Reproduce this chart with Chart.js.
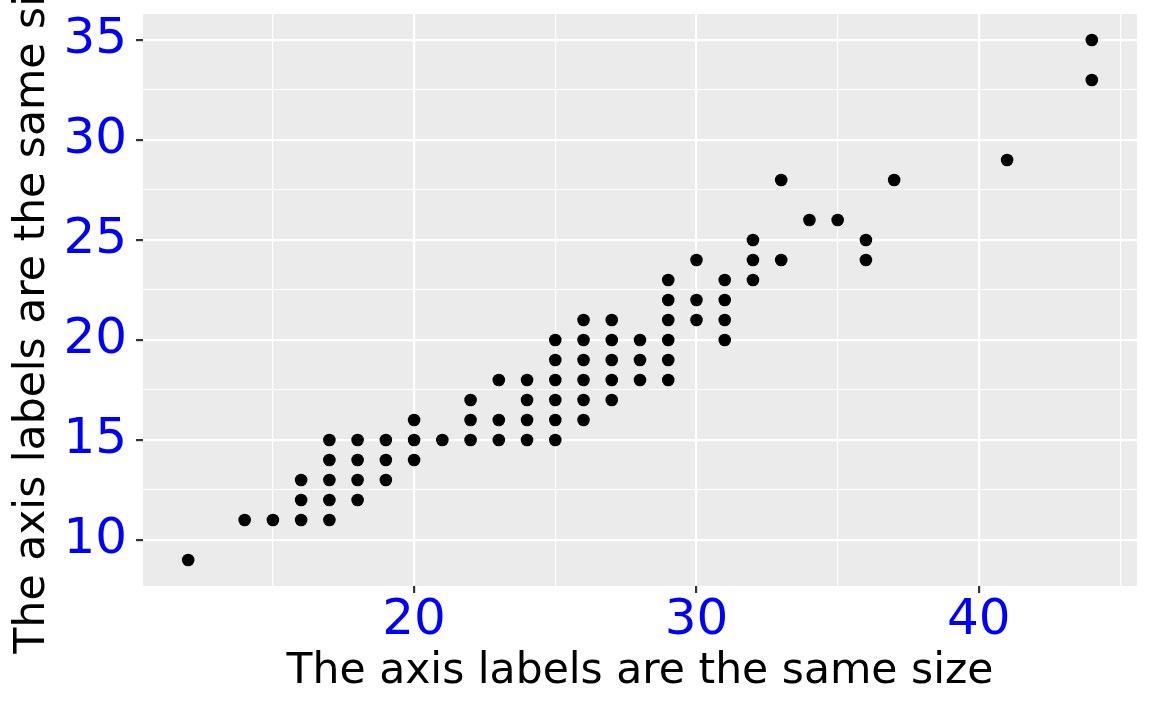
<!DOCTYPE html>
<html>
<head>
<meta charset="utf-8">
<script src="https://cdn.jsdelivr.net/npm/chart.js@4"></script>
<style>
  html, body { margin: 0; padding: 0; background: #fff; }
  canvas { display: block; }
</style>
</head>
<body>
<canvas id="myChart" width="1152" height="711"></canvas>
<script>
// highway mpg (x) and city mpg (y), one entry per visible dot
const hwy = [12, 14, 15, 16, 16, 16, 17, 17, 17, 17, 17, 18, 18, 18, 18, 19, 19, 19,
    20, 20, 20, 21, 22, 22, 22, 23, 23, 23, 24, 24, 24, 24,
    25, 25, 25, 25, 25, 25, 26, 26, 26, 26, 26, 26, 27, 27, 27, 27, 27,
    28, 28, 28, 29, 29, 29, 29, 29, 29, 30, 30, 30, 31, 31, 31, 31,
    32, 32, 32, 33, 33, 34, 35, 36, 36, 37, 41, 44, 44];
const cty = [9, 11, 11, 11, 12, 13, 11, 12, 13, 14, 15, 12, 13, 14, 15, 13, 14, 15,
    14, 15, 16, 15, 15, 16, 17, 15, 16, 18, 15, 16, 17, 18,
    15, 16, 17, 18, 19, 20, 16, 17, 18, 19, 20, 21, 17, 18, 19, 20, 21,
    18, 19, 20, 18, 19, 20, 21, 22, 23, 21, 22, 24, 20, 21, 22, 23,
    23, 24, 25, 24, 28, 26, 26, 24, 25, 28, 29, 33, 35];

// grid positions (major + minor) and the ones that get a label
const xTicks = [15, 20, 25, 30, 35, 40, 45];
const xLabels = [20, 30, 40];
const yTicks = [10, 12.5, 15, 17.5, 20, 22.5, 25, 27.5, 30, 32.5, 35];
const yLabels = [10, 15, 20, 25, 30, 35];

const titleText = 'The axis labels are the same size';

const points = hwy.map((h, i) => ({ x: h, y: cty[i] }));

// grey panel behind the grid
const panelBg = {
    id: 'panelBg',
    beforeDraw(chart) {
        const { ctx, chartArea: a } = chart;
        ctx.save();
        ctx.fillStyle = '#ffffff';
        ctx.fillRect(0, 0, chart.width, chart.height);
        ctx.fillStyle = '#EBEBEB';
        ctx.fillRect(a.left, a.top, a.right - a.left, a.bottom - a.top);
        ctx.restore();
    }
};

function noPadding(scale) {
    scale.paddingTop = 0;
    scale.paddingBottom = 0;
    scale.paddingLeft = 0;
    scale.paddingRight = 0;
}

function gridFor(labels) {
    return {
        color: '#ffffff',
        lineWidth: (c) => labels.includes(c.tick.value) ? 2.2 : 1.1,
        tickColor: (c) => labels.includes(c.tick.value) ? '#333333' : 'rgba(0,0,0,0)',
        tickWidth: 2.2,
        tickLength: 7,
        drawTicks: true
    };
}

const ctx = document.getElementById('myChart').getContext('2d');
const myChart = new Chart(ctx, {
    type: 'scatter',
    data: {
        datasets: [{
            data: points,
            pointRadius: 6.3,
            pointHoverRadius: 6.3,
            backgroundColor: '#000000',
            borderWidth: 0
        }]
    },
    options: {
        responsive: false,
        animation: false,
        events: [],
        layout: { padding: { top: 14, right: 15, left: 0, bottom: 0 } },
        plugins: { legend: { display: false }, tooltip: { enabled: false } },
        scales: {
            x: {
                type: 'linear',
                min: 10.4,
                max: 45.6,
                afterBuildTicks: (s) => { s.ticks = xTicks.map(v => ({ value: v })); },
                afterFit: (s) => { s.height = 125; noPadding(s); },
                grid: gridFor(xLabels),
                border: { display: false },
                ticks: {
                    autoSkip: false,
                    maxRotation: 0,
                    minRotation: 0,
                    padding: 3,
                    color: '#0000FF',
                    font: { family: 'DejaVu Sans', size: 50, lineHeight: 1 },
                    callback: (v) => xLabels.includes(v) ? String(v) : ''
                },
                title: {
                    display: true,
                    text: titleText,
                    color: '#000000',
                    font: { family: 'DejaVu Sans', size: 42.5, lineHeight: 1 },
                    padding: { top: 0, bottom: 17.5 }
                }
            },
            y: {
                type: 'linear',
                min: 7.7,
                max: 36.3,
                afterBuildTicks: (s) => { s.ticks = yTicks.map(v => ({ value: v })); },
                afterFit: (s) => { s.width = 143; noPadding(s); },
                grid: gridFor(yLabels),
                border: { display: false },
                ticks: {
                    autoSkip: false,
                    padding: 9,
                    color: '#0000FF',
                    font: { family: 'DejaVu Sans', size: 50, lineHeight: 1 },
                    callback: (v) => yLabels.includes(v) ? String(v) : ''
                },
                title: {
                    display: true,
                    text: titleText,
                    color: '#000000',
                    font: { family: 'DejaVu Sans', size: 42.5, lineHeight: 1 },
                    padding: { top: 12, bottom: 0 }
                }
            }
        }
    },
    plugins: [panelBg]
});
</script>
</body>
</html>
